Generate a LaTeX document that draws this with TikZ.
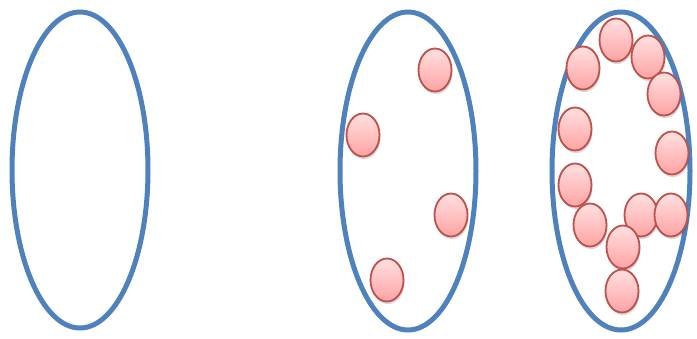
\documentclass[tikz,border=0pt]{standalone}
\usepackage{tikz}
\usetikzlibrary{shapes.geometric, shadows}
\definecolor{ringblue}{HTML}{4F81BD}
\definecolor{dotred}{HTML}{C0504D}
\definecolor{dottop}{HTML}{FFE0E0}
\definecolor{dotbottom}{HTML}{FFA3A3}

\tikzset{
  ring/.style={draw=ringblue, line width=2.5pt},
  dot/.style={ellipse, draw=dotred, line width=0.9pt, inner sep=0pt,
    minimum width=16.5pt, minimum height=21.5pt,
    top color=dottop, bottom color=dotbottom,
    drop shadow={shadow xshift=0.5pt, shadow yshift=-1.3pt, opacity=0.15, fill=black}}
}

\begin{document}
\begin{tikzpicture}[x=0.5pt, y=-0.5pt]
  \useasboundingbox (0,0) rectangle (697,338);

  % Leere Menge
  \draw[ring] (80,170) ellipse [x radius=68, y radius=158];

  % Wenige Teilchen
  \draw[ring] (408,171) ellipse [x radius=68, y radius=159];
  \foreach \x/\y [count=\i] in {435/70, 363/135, 451/215, 387/280}
    \node[dot] (s\i) at (\x,\y) {};

  % Viele Teilchen
  \draw[ring] (621,171) ellipse [x radius=69, y radius=159];
  \foreach \x/\y [count=\i] in {616/40, 583/68, 648/57, 664/94, 575/129,
      672/153, 575/185, 590/225, 641/215, 671/215, 623/247, 622/291}
    \node[dot] (m\i) at (\x,\y) {};
\end{tikzpicture}
\end{document}
